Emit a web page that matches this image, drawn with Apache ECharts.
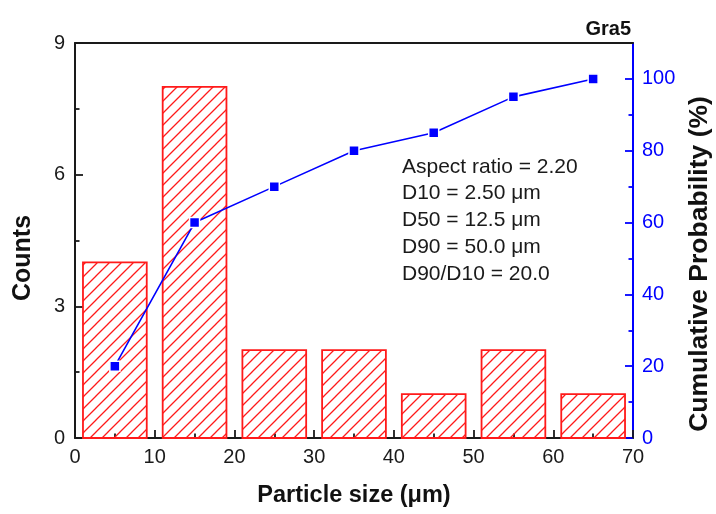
<!DOCTYPE html>
<html>
<head>
<meta charset="utf-8">
<script src="https://cdn.jsdelivr.net/npm/echarts@6/dist/echarts.min.js"></script>
<style>
  html, body { margin: 0; padding: 0; background: #fff; }
  #chart { width: 716px; height: 514px; }
</style>
</head>
<body>
<div id="chart"></div>
<script>
// Histogram bins (bin centres, µm) and counts per bin
const binCenters = [5, 15, 25, 35, 45, 55, 65];
const binWidth = 8;
const counts = [4, 8, 2, 2, 1, 2, 1];

// Cumulative probability (%) at each bin centre
const cumulative = [20, 60, 70, 80, 85, 95, 100];

// Tick positions for the right-hand axis
const rightMajorTicks = [0, 20, 40, 60, 80, 100];
const rightMinorTicks = [10, 30, 50, 70, 90];

const statsLines = [
  'Aspect ratio = 2.20',
  'D10 = 2.50 \u03bcm',
  'D50 = 12.5 \u03bcm',
  'D90 = 50.0 \u03bcm',
  'D90/D10 = 20.0'
];

const FONT = '"Liberation Sans", Arial, sans-serif';
const RED = '#ff1a1a';
const BLUE = '#0000ff';
const INK = '#111';

// Diagonal hatch tile for the histogram bars
function makeHatch() {
  const s = 12;
  const c = document.createElement('canvas');
  c.width = s; c.height = s;
  const g = c.getContext('2d');
  g.strokeStyle = RED;
  g.lineWidth = 1.3;
  g.beginPath();
  g.moveTo(-2, s + 2); g.lineTo(s + 2, -2);
  g.moveTo(-2, 2); g.lineTo(2, -2);
  g.moveTo(s - 2, s + 2); g.lineTo(s + 2, s - 2);
  g.stroke();
  return c;
}
const hatch = { image: makeHatch(), repeat: 'repeat' };

const histData = binCenters.map((x, i) => [x, counts[i]]);
const cumData = binCenters.map((x, i) => [x, cumulative[i]]);

const chart = echarts.init(document.getElementById('chart'), null, { renderer: 'canvas' });

const tickLabel = { fontFamily: FONT, fontSize: 20, color: '#1a1a1a' };
const gridBox = { left: 75, right: 83, top: 43, bottom: 76, containLabel: false };
const blackLine = { color: '#1a1a1a', width: 2 };

chart.setOption({
  animation: false,
  backgroundColor: '#fff',
  grid: [Object.assign({}, gridBox), Object.assign({}, gridBox)],
  xAxis: [
    {
      type: 'value', gridIndex: 0, min: 0, max: 70, interval: 10,
      name: 'Particle size (\u03bcm)', nameLocation: 'middle', nameGap: 46,
      nameTextStyle: { fontFamily: FONT, fontSize: 23.5, fontWeight: 'bold', color: INK },
      axisLine: { show: true, onZero: false, lineStyle: blackLine },
      axisTick: { show: true, inside: true, length: 8, lineStyle: { color: '#1a1a1a', width: 1.8 } },
      minorTick: { show: true, splitNumber: 2, length: 4.5, lineStyle: { color: '#1a1a1a', width: 1.8 } },
      axisLabel: Object.assign({ margin: 9 }, tickLabel),
      splitLine: { show: false }
    },
    {
      type: 'value', gridIndex: 0, min: 0, max: 70, position: 'top',
      axisLine: { show: true, onZero: false, lineStyle: blackLine },
      axisTick: { show: false }, axisLabel: { show: false }, splitLine: { show: false }
    },
    {
      type: 'value', gridIndex: 1, min: 0, max: 70, show: false
    }
  ],
  yAxis: [
    {
      type: 'value', gridIndex: 0, min: 0, max: 9, interval: 3, position: 'left',
      axisLine: { show: true, onZero: false, lineStyle: blackLine },
      axisTick: { show: true, inside: true, length: 8, lineStyle: { color: '#1a1a1a', width: 1.8 } },
      minorTick: { show: true, splitNumber: 2, length: 4.5, lineStyle: { color: '#1a1a1a', width: 1.8 } },
      axisLabel: Object.assign({ margin: 10 }, tickLabel),
      splitLine: { show: false }
    },
    {
      type: 'value', gridIndex: 0, min: 0, max: 110, position: 'right',
      axisLine: { show: true, onZero: false, lineStyle: { color: BLUE, width: 2 } },
      axisTick: { show: true, inside: true, length: 8, customValues: rightMajorTicks,
                  lineStyle: { color: BLUE, width: 1.8 } },
      axisLabel: Object.assign({ margin: 9, customValues: rightMajorTicks }, tickLabel, { color: BLUE }),
      splitLine: { show: false }
    },
    {
      // minor ticks of the right-hand scale, on an overlaid grid
      type: 'value', gridIndex: 1, min: 0, max: 110, position: 'right',
      axisLine: { show: false, onZero: false },
      axisTick: { show: true, inside: true, length: 4.5, customValues: rightMinorTicks,
                  lineStyle: { color: BLUE, width: 1.8 } },
      axisLabel: { show: false },
      splitLine: { show: false }
    }
  ],
  series: [
    {
      type: 'custom',
      xAxisIndex: 0, yAxisIndex: 0,
      data: histData,
      renderItem: function (params, api) {
        const x = api.value(0), v = api.value(1);
        const p0 = api.coord([x - binWidth / 2, v]);
        const p1 = api.coord([x + binWidth / 2, 0]);
        return {
          type: 'rect',
          shape: { x: p0[0], y: p0[1], width: p1[0] - p0[0], height: p1[1] - p0[1] },
          style: { fill: hatch, stroke: RED, lineWidth: 1.8 }
        };
      },
      z: 2
    },
    {
      type: 'line',
      xAxisIndex: 0, yAxisIndex: 1,
      data: cumData,
      symbol: 'rect', symbolSize: 10,
      lineStyle: { color: BLUE, width: 1.6 },
      itemStyle: { color: BLUE, borderColor: '#fff', borderWidth: 1.5 },
      z: 5
    }
  ],
  graphic: [
    {
      type: 'text', x: 631, y: 29,
      style: { text: 'Gra5', font: 'bold 20px ' + FONT, fill: INK, align: 'right', verticalAlign: 'middle' }
    },
    {
      type: 'text', x: 23.5, y: 258, rotation: Math.PI / 2,
      style: { text: 'Counts', font: 'bold 25px ' + FONT, fill: INK, align: 'center', verticalAlign: 'middle' }
    },
    {
      type: 'text', x: 700, y: 264, rotation: Math.PI / 2,
      style: { text: 'Cumulative Probability (%)', font: 'bold 26.5px ' + FONT, fill: INK,
               align: 'center', verticalAlign: 'middle' }
    }
  ].concat(statsLines.map((t, i) => ({
    type: 'text', x: 402, y: 167 + i * 26.7,
    style: { text: t, font: '21px ' + FONT, fill: '#1a1a1a', align: 'left', verticalAlign: 'middle' }
  })))
});
</script>
</body>
</html>
